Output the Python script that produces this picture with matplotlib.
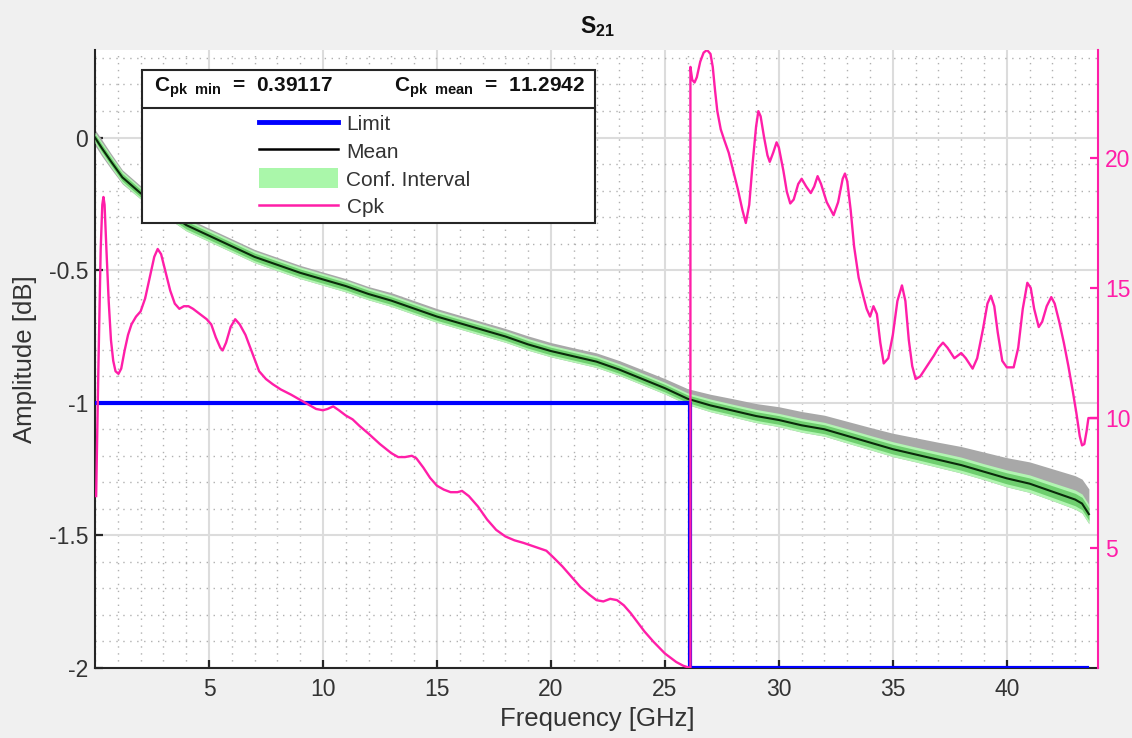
import numpy as np
import matplotlib
matplotlib.use("Agg")
import matplotlib.pyplot as plt
from matplotlib.lines import Line2D
from matplotlib.patches import Patch, Rectangle
from matplotlib.ticker import MultipleLocator, FixedLocator, FixedFormatter

plt.rcParams['font.family'] = ['Liberation Sans', 'DejaVu Sans']
plt.rcParams['mathtext.fontset'] = 'custom'
plt.rcParams['mathtext.rm'] = 'Liberation Sans'
plt.rcParams['mathtext.bf'] = 'Liberation Sans:bold'
plt.rcParams['mathtext.it'] = 'Liberation Sans:italic'

# ---- S21 mean amplitude (dB) versus frequency (GHz) ----
freq = [0.0, 0.3, 0.7, 1.2, 2, 3, 4, 5, 6, 7, 8, 9, 10, 11, 12, 13, 14, 15,
        16, 17, 18, 19, 20, 21, 22, 23, 24, 25, 26, 27, 28, 29, 30, 31, 32,
        33, 34, 35, 36, 37, 38, 39, 40, 41, 42, 43, 43.3, 43.6]
mean_db = [0.0, -0.04, -0.09, -0.15, -0.21, -0.27, -0.33, -0.37, -0.41, -0.45,
           -0.48, -0.51, -0.535, -0.56, -0.59, -0.615, -0.645, -0.675, -0.70,
           -0.725, -0.75, -0.78, -0.805, -0.825, -0.845, -0.875, -0.91, -0.945,
           -0.985, -1.01, -1.03, -1.05, -1.065, -1.085, -1.10, -1.125, -1.15,
           -1.175, -1.195, -1.215, -1.235, -1.26, -1.285, -1.305, -1.335,
           -1.365, -1.38, -1.42]
# half width of the confidence interval (dB)
ci_half = [0.02, 0.022, 0.022, 0.022, 0.022, 0.022, 0.022, 0.022, 0.022,
           0.022, 0.022, 0.022, 0.022, 0.022, 0.022, 0.022, 0.022, 0.022,
           0.022, 0.022, 0.022, 0.022, 0.022, 0.022, 0.022, 0.022, 0.022,
           0.022, 0.022, 0.024, 0.024, 0.025, 0.025, 0.026, 0.026, 0.027,
           0.027, 0.028, 0.028, 0.029, 0.03, 0.03, 0.032, 0.033, 0.034, 0.036,
           0.036, 0.036]
# spread of the measured traces around the mean (dB)
spread_hi = [0.03, 0.032, 0.03, 0.028, 0.028, 0.028, 0.028, 0.028, 0.028,
             0.028, 0.028, 0.028, 0.028, 0.028, 0.028, 0.03, 0.03, 0.03,
             0.03, 0.03, 0.03, 0.032, 0.032, 0.032, 0.033, 0.034, 0.035,
             0.036, 0.038, 0.042, 0.045, 0.047, 0.05, 0.052, 0.053, 0.055,
             0.057, 0.06, 0.063, 0.066, 0.07, 0.074, 0.078, 0.082, 0.086,
             0.09, 0.092, 0.095]
spread_lo = [0.03, 0.03, 0.028, 0.025, 0.022, 0.022, 0.022, 0.022, 0.022,
             0.022, 0.022, 0.022, 0.022, 0.022, 0.022, 0.022, 0.022, 0.022,
             0.022, 0.022, 0.022, 0.022, 0.022, 0.022, 0.022, 0.022, 0.022,
             0.022, 0.022, 0.024, 0.024, 0.025, 0.025, 0.026, 0.026, 0.027,
             0.027, 0.028, 0.028, 0.029, 0.03, 0.03, 0.032, 0.033, 0.034,
             0.036, 0.036, 0.036]

# ---- specification limit ----
limit_f = [0.0, 26.12, 26.12, 43.5]
limit_db = [-1.0, -1.0, -2.0, -2.0]

# ---- process capability index Cpk ----
cpk_f = [0.05, 0.15, 0.25, 0.32, 0.37, 0.42, 0.5, 0.6, 0.7, 0.8, 0.9, 1.03,
         1.15, 1.3, 1.45, 1.6, 1.8, 2.0, 2.2, 2.4, 2.6, 2.75, 2.9, 3.1, 3.3,
         3.5, 3.7, 3.9, 4.1, 4.3, 4.6, 4.9, 5.1, 5.3, 5.5, 5.6, 5.75, 5.95,
         6.15, 6.35, 6.6, 6.9, 7.2, 7.5, 7.8, 8.15, 8.6, 9.0, 9.4, 9.7, 10.0,
         10.2, 10.45, 10.7, 11.0, 11.3, 11.6, 12.0, 12.5, 13.0, 13.3, 13.6,
         13.9, 14.1, 14.4, 14.7, 15.0, 15.3, 15.6, 15.9, 16.1, 16.4, 16.8,
         17.2, 17.6, 18.0, 18.4, 18.8, 19.3, 19.8, 20.1, 20.5, 20.9, 21.3,
         21.7, 22.0, 22.3, 22.6, 22.9, 23.2, 23.5, 23.8, 24.1, 24.5, 25.0,
         25.5, 25.8, 26.0, 26.12,
         26.12, 26.2, 26.3, 26.4, 26.55, 26.7, 26.85, 27.0, 27.1, 27.2, 27.3,
         27.45, 27.6, 27.8, 28.0, 28.2, 28.4, 28.55, 28.7, 28.85, 29.0, 29.1,
         29.2, 29.35, 29.5, 29.6, 29.75, 29.9, 30.0, 30.2, 30.35, 30.5,
         30.65, 30.85, 31.0, 31.2, 31.4, 31.55, 31.7, 31.85, 32.1, 32.4,
         32.6, 32.8, 32.9, 33.0, 33.15, 33.3, 33.5, 33.7, 33.85, 34.0, 34.15,
         34.3, 34.45, 34.6, 34.8, 35.0, 35.2, 35.4, 35.55, 35.7, 35.85, 36.0,
         36.2, 36.5, 36.8, 37.0, 37.2, 37.4, 37.7, 37.85, 38.0, 38.2, 38.5,
         38.7, 38.95, 39.15, 39.3, 39.45, 39.6, 39.8, 40.0, 40.3, 40.5, 40.7,
         40.9, 41.05, 41.2, 41.4, 41.55, 41.75, 41.95, 42.1, 42.3, 42.5,
         42.7, 42.9, 43.05, 43.2, 43.3, 43.4, 43.5, 43.58, 43.95]
cpk_val = [7.0, 12.0, 16.5, 18.2, 18.5, 18.2, 16.5, 14.5, 13.0, 12.2, 11.8,
           11.7, 11.9, 12.6, 13.2, 13.6, 13.9, 14.1, 14.6, 15.4, 16.2, 16.5,
           16.3, 15.6, 14.9, 14.4, 14.2, 14.3, 14.3, 14.2, 14.0, 13.8, 13.6,
           13.1, 12.7, 12.6, 12.9, 13.5, 13.8, 13.6, 13.2, 12.5, 11.8, 11.5,
           11.3, 11.1, 10.9, 10.7, 10.5, 10.35, 10.3, 10.35, 10.45, 10.3,
           10.1, 9.95, 9.7, 9.4, 9.0, 8.65, 8.5, 8.5, 8.55, 8.45, 8.1, 7.7,
           7.4, 7.25, 7.15, 7.15, 7.2, 7.0, 6.6, 6.1, 5.7, 5.45, 5.3, 5.2,
           5.05, 4.9, 4.65, 4.3, 3.9, 3.5, 3.2, 3.0, 2.95, 3.05, 3.0, 2.8,
           2.5, 2.15, 1.8, 1.4, 0.95, 0.62, 0.48, 0.42, 0.39117,
           23.5, 23.0, 22.9, 23.1, 23.7, 24.05, 24.15, 24.0, 23.5, 22.6, 21.8,
           21.1, 20.7, 20.2, 19.5, 18.8, 18.0, 17.5, 18.2, 19.8, 21.2, 21.8,
           21.6, 20.8, 20.1, 19.85, 20.2, 20.6, 20.4, 19.5, 18.7, 18.25, 18.4,
           19.0, 19.2, 18.9, 18.65, 18.9, 19.3, 19.0, 18.3, 17.8, 18.3, 19.2,
           19.4, 19.1, 18.0, 16.6, 15.4, 14.7, 14.2, 13.9, 14.3, 14.0, 12.9,
           12.1, 12.3, 13.2, 14.5, 15.1, 14.5, 13.0, 12.0, 11.5, 11.6, 12.0,
           12.4, 12.7, 12.9, 12.7, 12.3, 12.4, 12.5, 12.3, 11.9, 12.3, 13.4,
           14.4, 14.7, 14.3, 13.3, 12.2, 11.95, 11.95, 12.7, 14.2, 15.2, 15.0,
           14.2, 13.5, 13.7, 14.3, 14.65, 14.4, 13.7, 12.9, 12.0, 11.0, 10.2,
           9.3, 8.95, 9.0, 9.5, 10.0, 10.0]
cpk_min = 0.39117
cpk_mean = 11.2942
cpk_max = 24.15

# ---- axis ticks ----
x_ticks = [5, 10, 15, 20, 25, 30, 35, 40]
y_ticks = [-2, -1.5, -1, -0.5, 0]
y_tick_labels = ['-2', '-1.5', '-1', '-0.5', '0']
cpk_ticks = [5, 10, 15, 20]

PINK = '#ff1ea8'
AXC = '#262626'
W, H = 1132, 738

fig = plt.figure(figsize=(W / 100, H / 100), dpi=100, facecolor='#f0f0f0')
ax = fig.add_axes([95 / W, 70 / H, (1098 - 95) / W, (668 - 50) / H])
ax.set_facecolor('white')

f = np.array(freq)
m = np.array(mean_db)
ci = np.array(ci_half)
ax.fill_between(f, m - np.array(spread_lo), m + np.array(spread_hi),
                color='#a8a8a8', lw=0, zorder=2)
ax.fill_between(f, m - ci, m + ci, color='#b2f5b2', lw=0, zorder=3)
ax.fill_between(f, m - 0.65 * ci, m + 0.65 * ci, color='#6fcf6f', lw=0,
                zorder=3)
ax.plot(f, m, color='#0a2a0a', lw=1.5, zorder=4)
ax.plot(limit_f, limit_db, color='#0000ff', lw=3, zorder=5)

ax.set_xlim(0, 44)
ax.set_ylim(-2, 0.33)
ax.xaxis.set_major_locator(FixedLocator(x_ticks))
ax.yaxis.set_major_locator(FixedLocator(y_ticks))
ax.yaxis.set_major_formatter(FixedFormatter(y_tick_labels))
ax.xaxis.set_minor_locator(MultipleLocator(1))
ax.yaxis.set_minor_locator(MultipleLocator(0.1))
ax.set_axisbelow(True)
ax.grid(which='major', color='#dcdcdc', lw=1.5)
ax.grid(which='minor', color='#b0b0b0', lw=1.0, ls=(0, (1, 4)))
ax.tick_params(which='major', direction='in', length=6, width=1.6,
               colors=AXC, labelsize=16.5, pad=7)
ax.tick_params(axis='y', pad=5)
ax.tick_params(which='minor', length=0)
for s in ['top', 'right']:
    ax.spines[s].set_visible(False)
for s in ['left', 'bottom']:
    ax.spines[s].set_color(AXC)
    ax.spines[s].set_linewidth(1.5)
for lab in ax.get_xticklabels() + ax.get_yticklabels():
    lab.set_color('#333333')

ax2 = ax.twinx()
ax2.plot(cpk_f, cpk_val, color=PINK, lw=1.7, zorder=6,
         solid_joinstyle='round')
ax2.set_ylim(cpk_min, cpk_max)
ax2.yaxis.set_major_locator(FixedLocator(cpk_ticks))
ax2.tick_params(direction='in', length=6, width=1.6, colors=PINK,
                labelsize=16.5, pad=5)
for s in ['top', 'left', 'bottom']:
    ax2.spines[s].set_visible(False)
ax2.spines['right'].set_color(PINK)
ax2.spines['right'].set_linewidth(1.5)

# labels and title
fig.text(597 / W, 1 - 719 / H, 'Frequency [GHz]', fontsize=18.5,
         color='#333333', ha='center', va='center')
fig.text(25 / W, 1 - 359 / H, 'Amplitude [dB]', fontsize=18.5,
         color='#333333', ha='center', va='center', rotation=90)
fig.text(597 / W, 1 - 27 / H, r'$\mathbf{S_{21}}$', fontsize=16.5,
         color='#111111', ha='center', va='center')

# legend box with Cpk summary header
box_l, box_r, box_t, box_b, box_sep = 142, 595, 70, 223, 108
fig.add_artist(Rectangle((box_l / W, 1 - box_b / H), (box_r - box_l) / W,
                         (box_b - box_t) / H, transform=fig.transFigure,
                         facecolor='white', edgecolor=AXC, lw=1.5, zorder=5))
fig.add_artist(Line2D([box_l / W, box_r / W], [1 - box_sep / H] * 2,
                      transform=fig.transFigure, color=AXC, lw=1.5, zorder=6))
fig.text(154 / W, 1 - 88 / H,
         r'$\mathbf{C}_{\mathbf{pk\ \ min}}$  =  ' + f'{cpk_min:.5f}',
         fontsize=15, fontweight='bold', color='#111111', va='center',
         ha='left', zorder=7)
fig.text(585 / W, 1 - 88 / H,
         r'$\mathbf{C}_{\mathbf{pk\ \ mean}}$  =  ' + f'{cpk_mean:.4f}',
         fontsize=15, fontweight='bold', color='#111111', va='center',
         ha='right', zorder=7)

handles = [Line2D([], [], color='#0000ff', lw=3.5),
           Line2D([], [], color='black', lw=1.8),
           Patch(facecolor='#aaf7aa', edgecolor='none'),
           Line2D([], [], color=PINK, lw=1.8)]
labels = ['Limit', 'Mean', 'Conf. Interval', 'Cpk']
leg = fig.legend(handles, labels, loc='upper left',
                 bbox_to_anchor=(259 / W, 1 - 113 / H), frameon=False,
                 fontsize=15, handlelength=3.8, handleheight=1.1,
                 handletextpad=0.4, labelspacing=0.32, borderpad=0,
                 borderaxespad=0)
leg.set_zorder(8)
for t in leg.get_texts():
    t.set_color('#333333')

fig.savefig('out.png', dpi=100, facecolor=fig.get_facecolor())
